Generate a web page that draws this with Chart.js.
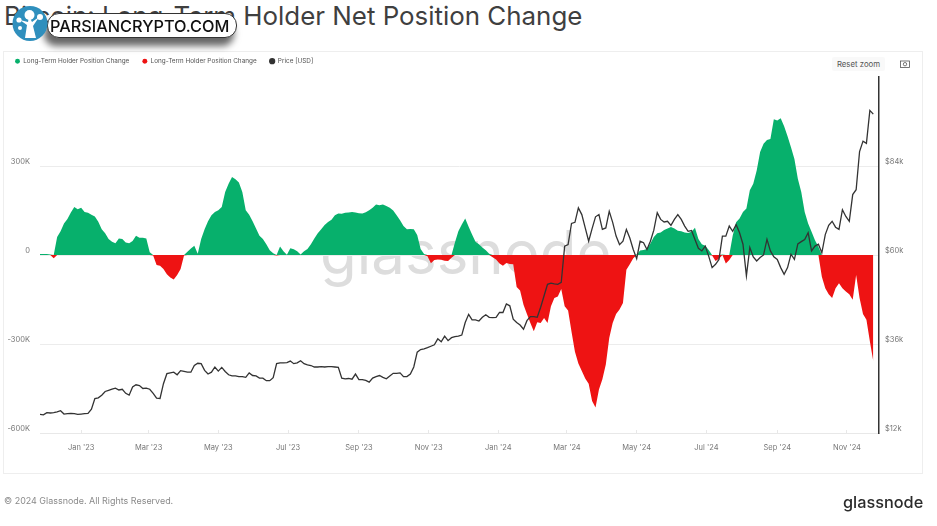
<!DOCTYPE html>
<html>
<head>
<meta charset="utf-8">
<title>Bitcoin: Long-Term Holder Net Position Change</title>
<script src="https://cdn.jsdelivr.net/npm/chart.js@4/dist/chart.umd.min.js"></script>
<style>
html, body { margin: 0; padding: 0; background: #fff; width: 937px; height: 526px; overflow: hidden; font-family: Inter, sans-serif; }
#title { position: absolute; left: 4px; top: 0; font-size: 25.9px; line-height: 32px; color: #3f3f3f; white-space: nowrap; }
#panel { position: absolute; left: 3px; top: 51px; width: 918px; height: 421px; border: 1px solid #eeeeee; }
#watermark { position: absolute; left: 320px; top: 212px; font-size: 60px; line-height: 80px; color: #dddddd; white-space: nowrap; }
#myChart { position: absolute; left: 0; top: 0; }
#resetZoom { position: absolute; left: 832px; top: 57px; width: 53px; height: 14px; line-height: 14px; background: #f9f9f9; border-radius: 2px; font-size: 7.8px; color: #555; text-align: center; }
#camera { position: absolute; left: 900px; top: 60px; }
#copyright { position: absolute; left: 4px; top: 495px; font-size: 8.95px; line-height: 12px; color: #8a8a8a; white-space: nowrap; }
#brand { position: absolute; left: 843px; top: 489px; font-size: 16.3px; line-height: 26px; font-weight: 500; color: #2b2b2b; white-space: nowrap; }
#badge { position: absolute; left: 47px; top: 13px; width: 188px; height: 23px; background: #fff; border: 1px solid #333; border-radius: 12px; box-shadow: -3px 8px 7px rgba(0,0,0,0.6); }
#badge span { position: absolute; left: 2px; top: 0; line-height: 24px; font-size: 16.3px; font-weight: 500; color: #111; white-space: nowrap; }
#logo { position: absolute; left: 12px; top: 5px; }
</style>
</head>
<body>
<div id="title">Bitcoin: Long-Term Holder Net Position Change</div>
<div id="panel"></div>
<div id="watermark">glassnode</div>
<canvas id="myChart" width="937" height="526"></canvas>
<div id="resetZoom">Reset zoom</div>
<svg id="camera" width="10" height="8" viewBox="0 0 10 8"><rect x="0.5" y="1" width="9" height="6.5" fill="none" stroke="#555" stroke-width="0.8"/><circle cx="5" cy="4.2" r="1.7" fill="none" stroke="#555" stroke-width="0.8"/></svg>
<div id="badge"><span>PARSIANCRYPTO.COM</span></div>
<svg id="logo" width="36" height="37" viewBox="0 0 36 37">
  <circle cx="18" cy="18.500" r="17.500" fill="#2f8fbd"/>
  <path d="M13 33 L15 20 L8 15 L16 17 L17 11 L20 17 L27 12 L21 21 L24 33 Z" fill="#fff"/>
  <circle cx="17.500" cy="10" r="5" fill="#fff"/>
  <circle cx="7" cy="15" r="2.600" fill="#fff"/>
  <circle cx="28" cy="12" r="3" fill="#fff"/>
  <circle cx="8" cy="23" r="2" fill="#fff"/>
</svg>
<div id="copyright">© 2024 Glassnode. All Rights Reserved.</div>
<div id="brand">glassnode</div>
<script>
'use strict'
//Values, one reading every 3 days starting Nov 26 2022
const stepDays = 3;

//Net position change in thousands of BTC
const positionChange = [
    3, 3, 3, 2, -11, 61, 80, 106, 121, 143, 162, 154, 159, 145, 142, 136, 130, 112, 87, 73,
    54, 45, 40, 56, 54, 42, 40, 47, 65, 58, 58, 56, 9, -2, -34, -36, -47, -65, -76, -83,
    -67, -47, -2, 11, 22, 31, 4, 54, 87, 114, 134, 145, 151, 162, 212, 240, 263, 255, 244, 212,
    151, 136, 114, 89, 65, 54, 36, 16, 6, -2, 29, 13, 1, 23, 19, 13, 2, 13, 20, 36,
    56, 73, 87, 101, 111, 119, 134, 140, 139, 142, 143, 145, 143, 141, 140, 144, 151, 159, 170, 168,
    170, 165, 159, 150, 134, 117, 98, 87, 88, 87, 67, 20, 3, -4, -28, -17, -15, -16, -19, -20,
    -9, 42, 80, 103, 123, 95, 69, 45, 36, 25, 16, 4, -8, -15, -29, -36, -27, -30, -31, -108,
    -120, -168, -199, -229, -257, -227, -229, -212, -229, -173, -145, -140, -115, -173, -187, -259, -326, -366, -391, -416,
    -434, -492, -514, -453, -419, -369, -280, -229, -199, -184, -162, -50, -31, -11, 2, 15, 17, 20, 39, 61,
    73, 76, 84, 89, 94, 89, 82, 80, 76, 74, 78, 92, 54, 36, 31, 17, -2, -20, -13, 2,
    -29, -17, 65, 110, 123, 145, 157, 218, 240, 285, 347, 375, 388, 391, 458, 453, 461, 434, 400, 363,
    324, 257, 212, 145, 106, 78, 50, 28, -73, -112, -132, -145, -112, -95, -112, -123, -132, -151, -67, -145,
    -199, -218, -291, -358
];

//BTC price in thousands of USD
const priceUsd = [
    17.0, 16.9, 17.5, 17.4, 17.5, 17.7, 18.0, 17.1, 17.2, 17.3, 17.2, 17.0, 17.1, 17.2, 17.3, 18.4, 21.3, 21.5, 22.2, 23.2,
    23.5, 23.8, 24.1, 23.6, 23.8, 22.7, 22.2, 24.4, 25.0, 24.8, 24.0, 24.1, 23.8, 22.7, 21.4, 21.3, 25.3, 28.0, 28.2, 28.4,
    27.7, 28.8, 28.6, 28.4, 28.4, 30.2, 30.8, 30.7, 28.9, 27.9, 28.4, 29.8, 28.7, 29.7, 28.6, 27.7, 27.4, 27.4, 27.2, 27.2,
    27.0, 28.2, 27.5, 27.4, 26.8, 26.8, 26.1, 26.1, 26.9, 30.7, 30.9, 30.9, 31.0, 31.4, 30.7, 30.9, 31.5, 30.7, 30.4, 30.2,
    29.8, 29.8, 29.9, 29.8, 29.9, 29.9, 29.8, 29.7, 26.8, 26.6, 26.7, 26.5, 27.9, 26.4, 26.4, 26.2, 25.7, 26.8, 27.2, 27.5,
    27.0, 26.6, 27.4, 28.1, 28.1, 28.2, 27.2, 27.2, 27.9, 29.8, 33.8, 34.5, 34.7, 35.0, 35.4, 35.8, 37.4, 36.6, 38.1, 36.9,
    37.7, 38.0, 38.1, 38.4, 41.8, 44.0, 42.5, 42.5, 42.2, 43.2, 43.9, 43.2, 43.1, 43.2, 44.5, 44.5, 46.8, 46.3, 42.7, 41.8,
    41.1, 40.0, 42.3, 43.4, 43.4, 43.2, 45.9, 49.0, 52.1, 52.4, 52.2, 52.1, 52.6, 62.4, 62.8, 68.5, 68.8, 72.7, 70.9, 67.3,
    63.7, 67.1, 70.3, 70.9, 66.9, 67.3, 71.8, 68.8, 65.1, 62.8, 63.7, 66.9, 64.6, 61.5, 59.0, 63.7, 63.3, 61.5, 63.7, 66.7,
    71.4, 69.6, 68.9, 69.1, 68.0, 69.6, 70.9, 69.6, 67.8, 66.4, 66.6, 64.2, 61.8, 61.1, 62.4, 59.7, 56.6, 57.5, 58.8, 65.1,
    65.1, 67.8, 66.4, 68.2, 66.0, 62.9, 54.4, 62.0, 59.5, 58.4, 59.3, 60.0, 64.2, 61.1, 59.5, 58.8, 56.6, 54.8, 56.6, 60.2,
    58.8, 63.0, 63.6, 64.2, 66.0, 61.1, 62.4, 62.9, 60.6, 65.5, 68.0, 69.1, 67.5, 66.9, 72.2, 70.4, 69.1, 76.3, 77.6, 87.9,
    90.7, 90.1, 99.0, 98.0
];

//Days since Nov 26 2022 where the month labels sit
const monthTickDays = [36, 95, 156, 217, 279, 340, 401, 461, 522, 583, 645, 706];
const monthTickLabels = ["Jan '23", "Mar '23", "May '23", "Jul '23", "Sep '23", "Nov '23", "Jan '24", "Mar '24", "May '24", "Jul '24", "Sep '24", "Nov '24"];

const changeTickLabels = {'-600': '-600K', '-300': '-300K', '0': '0', '300': '300K'};
const priceTickLabels = {'12': '$12k', '36': '$36k', '60': '$60k', '84': '$84k'};

function withDays(values){
    return values.map((v, i) => ({x: i * stepDays, y: v}));
}

const tickFont = {family: 'Inter', size: 7.5};

//Keeps the legend band a fixed height so the plot starts where it should
const legendBand = {
    id: 'legendBand',
    beforeInit(chart){
        const fit = chart.legend.fit;
        chart.legend.fit = function(){
            fit.call(this);
            this.height = 32;
        };
    },
    afterLayout(chart){
        chart.legend.left += 2;
    }
};

const config = {
    type: 'line',
    data: {
        datasets: [
            {
                label: 'Price [USD]',
                data: withDays(priceUsd),
                yAxisID: 'yPrice',
                borderColor: '#333333',
                backgroundColor: '#333333',
                borderWidth: 1.3,
                pointRadius: 0,
                tension: 0,
                order: 1
            },
            {
                label: 'Long-Term Holder Position Change',
                data: withDays(positionChange.map(v => v < 0 ? v : 0)),
                yAxisID: 'yChange',
                borderWidth: 0,
                borderColor: '#ee1313',
                backgroundColor: '#ee1313',
                fill: 'origin',
                pointRadius: 0,
                order: 2
            },
            {
                label: 'Long-Term Holder Position Change',
                data: withDays(positionChange.map(v => v > 0 ? v : 0)),
                yAxisID: 'yChange',
                borderWidth: 0,
                borderColor: '#07b06c',
                backgroundColor: '#07b06c',
                fill: 'origin',
                pointRadius: 0,
                order: 3
            }
        ]
    },
    plugins: [legendBand],
    options: {
        responsive: false,
        animation: false,
        layout: {padding: {top: 45, left: 0, right: 0, bottom: 0}},
        plugins: {
            tooltip: {enabled: false},
            legend: {
                position: 'top',
                align: 'start',
                labels: {
                    usePointStyle: true,
                    pointStyle: 'circle',
                    boxWidth: 5,
                    boxHeight: 3.5,
                    padding: 13,
                    color: '#555',
                    font: {family: 'Inter', size: 6.4},
                    sort: (a, b) => b.datasetIndex - a.datasetIndex
                }
            }
        },
        scales: {
            x: {
                type: 'linear',
                min: 0,
                max: 734,
                afterBuildTicks: scale => { scale.ticks = monthTickDays.map(d => ({value: d})); },
                afterFit: scale => { scale.height = 93; },
                grid: {drawOnChartArea: false, tickLength: -3, tickColor: '#e8e8e8'},
                border: {color: '#e8e8e8'},
                ticks: {
                    autoSkip: false,
                    maxRotation: 0,
                    padding: 13,
                    color: '#777',
                    font: tickFont,
                    callback: value => monthTickLabels[monthTickDays.indexOf(value)]
                }
            },
            yChange: {
                position: 'left',
                min: -600,
                max: 600,
                afterFit: scale => { scale.width = 40; },
                grid: {color: '#ececec', drawTicks: false},
                border: {display: false},
                ticks: {
                    stepSize: 150,
                    padding: 10,
                    labelOffset: -4,
                    color: '#777',
                    font: tickFont,
                    callback: value => changeTickLabels[value]
                }
            },
            yPrice: {
                position: 'right',
                min: 12,
                max: 108,
                afterFit: scale => { scale.width = 58; },
                grid: {display: false, drawTicks: false},
                border: {display: true, color: '#333333', width: 1.5},
                ticks: {
                    stepSize: 24,
                    padding: 6,
                    labelOffset: -4,
                    color: '#777',
                    font: tickFont,
                    callback: value => priceTickLabels[value]
                }
            }
        }
    }
};

let myChart = new Chart(document.getElementById('myChart'), config);
</script>
</body>
</html>
